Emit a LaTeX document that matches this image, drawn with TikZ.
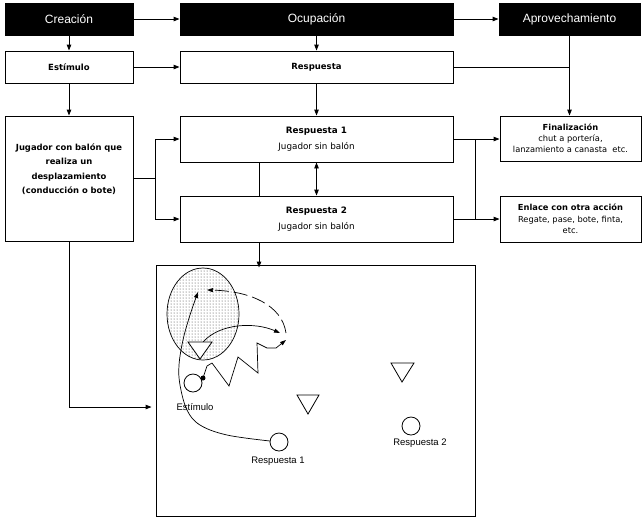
\documentclass[tikz,border=0pt]{standalone}
\usepackage{fontspec}
\setmainfont{Liberation Sans}
\newfontfamily\boxfont{DejaVu Sans}
\usetikzlibrary{arrows.meta,patterns}
\begin{document}
\begin{tikzpicture}[x=1pt,y=-1pt,line width=0.9pt,
  blackbox/.style={draw,fill=black,text=white,minimum height=32pt,inner sep=0pt,font=\fontsize{12}{13}\selectfont},
  wbox/.style={draw,fill=white,inner sep=1pt,align=center},
  arr/.style={-{Triangle[length=6pt,width=4.5pt]}},
  darr/.style={{Triangle[length=6pt,width=4.5pt]}-{Triangle[length=6pt,width=4.5pt]}},
  smallarr/.style={-{Triangle[length=6pt,width=4pt]}},
  bfont/.style={font=\boxfont\fontsize{8.5}{16}\selectfont\bfseries},
  lbl/.style={font=\fontsize{9.5}{11}\selectfont,inner sep=0pt},
  tri/.style={draw,fill=white,line width=0.8pt},
  ball/.style={draw,fill=white,line width=0.8pt}]
\useasboundingbox (0,0) rectangle (644,520);
% top row
\node[blackbox,minimum width=128pt] (crea) at (69,19) {Creación};
\node[blackbox,minimum width=273pt] (ocup) at (316.5,19) {Ocupación};
\node[blackbox,minimum width=141pt] (aprov) at (569.5,19) {Aprovechamiento};
% second row
\node[wbox,minimum width=128pt,minimum height=32pt,bfont] (estim) at (69,67) {Estímulo};
\node[wbox,minimum width=273pt,minimum height=32pt,bfont] (resp) at (316.5,67) {Respuesta};
% third row
\node[wbox,minimum width=128pt,minimum height=125pt,font=\boxfont\fontsize{8.4}{14.5}\selectfont\bfseries] (jug) at (69,178.5)
  {Jugador con balón que\\realiza un\\desplazamiento\\(conducción o bote)\\[5pt]};
\node[wbox,minimum width=273pt,minimum height=46pt,font=\boxfont\fontsize{8.8}{16}\selectfont] (r1) at (316.5,139)
  {\textbf{Respuesta 1}\\Jugador sin balón};
\node[wbox,minimum width=273pt,minimum height=46pt,font=\boxfont\fontsize{8.8}{16}\selectfont] (r2) at (316.5,219)
  {\textbf{Respuesta 2}\\Jugador sin balón};
\node[wbox,minimum width=141pt,minimum height=45pt,font=\boxfont\fontsize{8.3}{11}\selectfont] (fin) at (570.5,138.5)
  {\textbf{Finalización}\\chut a portería,\\lanzamiento a canasta\ \ etc.};
\node[wbox,minimum width=141pt,minimum height=46pt,font=\boxfont\fontsize{8.3}{11.5}\selectfont] (enl) at (570.5,219)
  {\textbf{Enlace con otra acción}\\Regate, pase, bote, finta,\\etc.};
% field
\node[draw,minimum width=319pt,minimum height=251pt,inner sep=0pt] (field) at (315.5,390.5) {};
% helper coordinates
\coordinate (mx) at (259,0);
\coordinate (fl) at (155,0);
\coordinate (fr) at (475,0);
\coordinate (fy) at (0,407);
% connectors
\draw[arr] (crea.east) -- (ocup.west);
\draw[arr] (ocup.east) -- (aprov.west);
\draw[arr] (crea.south) -- (estim.north);
\draw[arr] (ocup.south) -- (resp.north);
\draw[arr] (estim.east) -- (resp.west);
\draw (resp.east) -- (resp.east -| aprov.south);
\draw[arr] (aprov.south) -- (aprov.south |- fin.north);
\draw[arr] (estim.south) -- (jug.north);
\draw[arr] (resp.south) -- (r1.north);
\draw[darr] (r1.south) -- (r2.north);
\draw (mx |- r1.south) -- (mx |- r2.north);
\draw (jug.east) -- (fl |- jug.east);
\draw (fl |- r1.west) -- (fl |- r2.west);
\draw[arr] (fl |- r1.west) -- (r1.west);
\draw[arr] (fl |- r2.west) -- (r2.west);
\draw[arr] (r1.east) -- (r1.east -| fin.west);
\draw[arr] (r2.east) -- (r2.east -| enl.west);
\draw (fr |- r1.east) -- (fr |- r2.east);
\draw[arr] (jug.south) -- (jug.south |- fy) -- ([xshift=-4pt]field.west |- fy);
\draw[arr] (mx |- r2.south) -- ([yshift=-3pt]mx |- field.north);
% field contents
\draw[line width=0.7pt,pattern=dots,pattern color=black!80] (203,314) ellipse [x radius=36, y radius=46];
% zigzag dribble
\draw[smallarr,line width=0.7pt] (203,378) -- (207,366) -- (212,363) -- (229,386) -- (238,357) -- (258,373)
  -- (257,343) -- (267,348) -- (276,348) -- (286,340);
% pass (dashed)
\draw[smallarr,line width=0.7pt,dash pattern=on 14pt off 5pt] (286,333) .. controls (282,305) and (250,291) .. (207,290);
% defender move
\draw[smallarr,line width=0.7pt] (203,342) .. controls (220,323) and (255,322) .. (280,333);
% run of Respuesta 1
\draw[smallarr,line width=0.7pt] plot[smooth,tension=0.6] coordinates {(270,441) (227,435) (200,425) (187,410) (180,385) (179,365) (183,340) (190,315) (198,292)};
% players
\draw[tri] (188,342) -- (212,342) -- (200,359) -- cycle;
\draw[tri] (297,395) -- (319,395) -- (308,414) -- cycle;
\draw[tri] (391,363) -- (414,363) -- (402,382) -- cycle;
\draw[ball] (193,383) circle [radius=9];
\fill (203,378) circle [radius=2.5];
\draw[ball] (279,442) circle [radius=9];
\draw[ball] (411,426) circle [radius=9];
\node[lbl] (lE) at (195,407) {Estímulo};
\node[lbl] (lR1) at (278,461) {Respuesta 1};
\node[lbl] (lR2) at (420,443) {Respuesta 2};
\end{tikzpicture}
\end{document}
